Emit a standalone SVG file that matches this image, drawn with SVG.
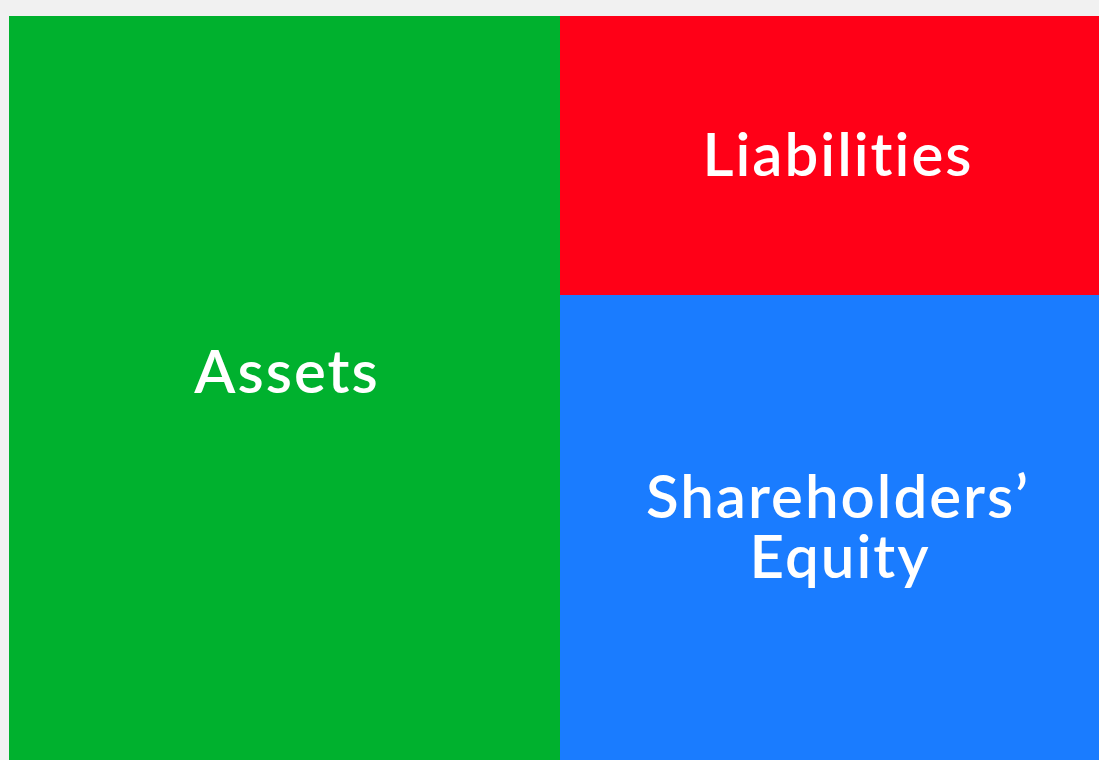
<svg xmlns="http://www.w3.org/2000/svg" width="1099" height="760" viewBox="0 0 1099 760">
<style>
.lbl{font-family:Lato,"Open Sans","Liberation Sans",sans-serif;font-weight:600;font-size:60px;letter-spacing:2px;font-variant-ligatures:none;fill:#ffffff;text-anchor:middle}
</style>
<rect x="0" y="0" width="1099" height="760" fill="#f1f1f1"/>
<g id="assets">
<rect x="9" y="16" width="551" height="744" fill="#00b12e"/>
<text class="lbl" x="287" y="393">Assets</text>
</g>
<g id="liabilities">
<rect x="560" y="16" width="539" height="279" fill="#ff0017"/>
<text class="lbl" x="838" y="176">Liabilities</text>
</g>
<g id="equity">
<rect x="560" y="295" width="539" height="465" fill="#1a7cff"/>
<text class="lbl" x="838" y="518">Shareholders’</text>
<text class="lbl" x="840" y="578">Equity</text>
</g>
<g id="connectors"/>
</svg>
